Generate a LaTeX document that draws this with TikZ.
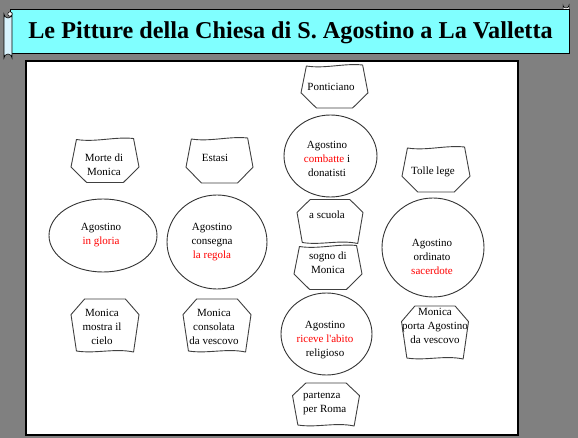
\documentclass[tikz,border=0pt]{standalone}
\usepackage{fontspec}
\setmainfont{Liberation Serif}
\definecolor{bggray}{HTML}{808080}
\definecolor{bannercyan}{HTML}{80FFFF}
\definecolor{txtred}{HTML}{FF0000}
\tikzset{
  tape/.style={draw=black!75,line width=0.9pt,line join=round},
  oval/.style={draw=black!80,line width=0.9pt},
  lbl/.style={font=\fontsize{11}{14}\selectfont,align=center,inner sep=0pt},
}
% top-type tag: wavy top, chamfered bottom
\newcommand\tagT[4]{%
  \begin{scope}[shift={(#1,#2)}]
  \pgfmathsetmacro\ha{0.42*#3}\pgfmathsetmacro\hb{0.5*#3}\pgfmathsetmacro\hc{0.27*#3}%
  \pgfmathsetmacro\hh{0.5*#4}\pgfmathsetmacro\hm{0.14*#4}%
  \draw[tape] (-\ha,-\hh) .. controls (-\ha/3,-\hh+3) and (\ha/3,-\hh-3) .. (\ha,-\hh-1)
    -- (\hb,\hm) -- (\hc,\hh) -- (-\hc,\hh) -- (-\hb,\hm) -- cycle;
  \end{scope}}
% inverted tag: chamfered top, wavy bottom
\newcommand\tagI[4]{%
  \begin{scope}[shift={(#1,#2)}]
  \pgfmathsetmacro\ha{0.42*#3}\pgfmathsetmacro\hb{0.5*#3}\pgfmathsetmacro\hc{0.3*#3}%
  \pgfmathsetmacro\hh{0.5*#4}\pgfmathsetmacro\hm{-0.2*#4}%
  \draw[tape] (-\hc,-\hh) -- (\hc,-\hh) -- (\hb,\hm) -- (\ha,\hh+1)
    .. controls (\ha/3,\hh-3) and (-\ha/3,\hh+3) .. (-\ha,\hh) -- (-\hb,\hm) -- cycle;
  \end{scope}}
\begin{document}
\begin{tikzpicture}[x=1pt,y=-1pt]
\path[use as bounding box,fill=bggray] (0,0) rectangle (578,438);
% banner
\fill[bannercyan,draw=black,line width=0.8pt] (10,9) rectangle (569,53);
\draw[black,line width=0.6pt,fill=cyan!15] (4,14) -- (4,58) arc[start angle=180,end angle=360,radius=4] -- (12,14) arc[start angle=0,end angle=180,radius=4] -- cycle;
\draw[black,line width=0.5pt,fill=white] (10,14) circle[radius=2.2];
\draw[black,line width=0.5pt,fill=white] (563,9) -- (563,5) arc[start angle=180,end angle=0,radius=3] -- (569,9);
\node[font=\fontsize{24.2}{28}\selectfont\bfseries,anchor=base,inner sep=0pt] (title) at (290.5,38.5) {Le Pitture della Chiesa di S. Agostino a La Valletta};
% page
\fill[white] (26,61) rectangle (518,435);
\draw[black,line width=1.3pt] (26,61) rectangle (518,435);
% shapes
\tagT{334.5}{87}{67}{42}
\tagT{105}{161}{68}{43}
\tagT{219.5}{161}{67}{44}
\tagT{436}{170}{68}{44}
\tagT{328}{268}{68}{43}
\tagI{330}{221}{66}{43}
\tagI{105}{325}{68}{52}
\tagI{217}{325}{68}{52}
\tagI{435}{332}{67}{52}
\tagI{326}{404}{67}{42}
\draw[oval] (330.5,156) ellipse[x radius=46.5,y radius=41];
\draw[oval] (103,235.5) ellipse[x radius=54,y radius=36.5];
\draw[oval] (217,242) ellipse[x radius=50,y radius=47];
\draw[oval] (433,247.5) ellipse[x radius=51,y radius=49.5];
\draw[oval] (326.5,334) ellipse[x radius=45.5,y radius=41];
% texts
\node[lbl] (pont) at (331,87) {Ponticiano};
\node[lbl] (morte) at (104,165) {Morte di\\Monica};
\node[lbl] (estasi) at (215,158) {Estasi};
\node[lbl] (combatte) at (327,159) {Agostino\\\textcolor{txtred}{combatte} i\\donatisti};
\node[lbl] (tolle) at (433,172) {Tolle lege};
\node[lbl] (scuola) at (327,215) {a scuola};
\node[lbl] (gloria) at (101,235) {Agostino\\\textcolor{txtred}{in gloria}};
\node[lbl] (consegna) at (212,242) {Agostino\\consegna\\\textcolor{txtred}{la regola}};
\node[lbl] (sacerdote) at (432,257) {Agostino\\ordinato\\\textcolor{txtred}{sacerdote}};
\node[lbl] (sogno) at (328,263) {sogno di\\Monica};
\node[lbl] (mostra) at (102,327) {Monica\\mostra il\\cielo};
\node[lbl] (consolata) at (214,327) {Monica\\consolata\\da vescovo};
\node[lbl] (riceve) at (325,340) {Agostino\\\textcolor{txtred}{riceve l\textquotesingle abito}\\religioso};
\node[lbl] (porta) at (435,326) {Monica\\porta Agostino\\da vescovo};
\node[lbl,align=left,anchor=west] (partenza) at (303,404) {partenza\\per Roma};
\end{tikzpicture}
\end{document}
